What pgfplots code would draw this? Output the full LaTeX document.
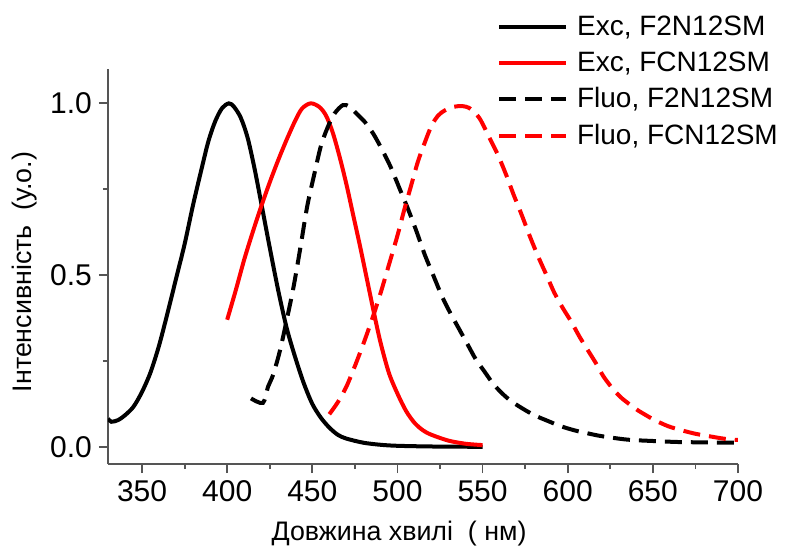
\documentclass[border=0pt]{standalone}
\usepackage{fontspec}
\setmainfont{Liberation Sans}
\usepackage{pgfplots}
\pgfplotsset{compat=1.18}

\definecolor{axgray}{RGB}{85,85,85}

\begin{document}
\begin{tikzpicture}
\begin{axis}[
    scale only axis,
    width=315pt, height=197.5pt,
    xmin=330, xmax=700,
    ymin=-0.05, ymax=1.1,
    axis x line*=bottom, axis y line*=left,
    axis line style={axgray, line width=0.9pt, -},
    tick style={axgray, line width=0.9pt},
    tick align=outside,
    major tick length=4.5pt, minor tick length=2.5pt,
    xtick={350,400,...,700},
    minor xtick={375,425,...,675},
    ytick={0,0.5,1},
    minor ytick={0.25,0.75},
    /pgf/number format/assume math mode=true,
    yticklabel style={/pgf/number format/fixed, /pgf/number format/zerofill, /pgf/number format/precision=1},
    xticklabel style={/pgf/number format/1000 sep={}},
    tick label style={font=\fontsize{15}{18}\selectfont, black},
    xlabel={Довжина хвилі\ \ ( нм)},
    ylabel={Інтенсивність\ \ (у.о.)},
    label style={font=\fontsize{13.4}{16}\selectfont},
    xlabel style={at={(rel axis cs:0.462,-0.175)}, anchor=center},
    ylabel style={at={(rel axis cs:-0.132,0.486)}, anchor=center},
    legend style={at={(rel axis cs:0.617,1.145)}, anchor=north west, draw=none, fill=none,
        font=\fontsize{14}{17}\selectfont, row sep=2.6pt, inner sep=0pt,
        /tikz/every odd column/.style={column sep=2.5pt}},
    legend cell align=left,
    legend image code/.code={\draw[#1] (0pt,0pt) -- (33.5pt,0pt);},
    every axis plot/.append style={line width=2pt, smooth, tension=0.5},
]
% Exc, F2N12SM
\addplot[black] coordinates {
(330,0.082) (332,0.073) (336,0.078) (340,0.092) (345,0.117) (350,0.16) (355,0.217)
(360,0.295) (365,0.39) (370,0.49) (375,0.59) (380,0.705) (385,0.81) (389,0.89)
(393,0.948) (397,0.986) (401,1.0) (404,0.99) (408,0.958) (412,0.9) (416,0.812)
(420,0.71) (425,0.58) (430,0.455) (435,0.345) (440,0.26) (445,0.185) (450,0.125)
(455,0.085) (460,0.056) (465,0.035) (470,0.024) (480,0.012) (490,0.006) (500,0.003)
(520,0.001) (550,0.0)
};
\addlegendentry{Exc, F2N12SM}

% Exc, FCN12SM
\addplot[red] coordinates {
(400,0.37) (405,0.455) (410,0.545) (415,0.625) (420,0.70) (425,0.77) (430,0.835)
(435,0.895) (440,0.95) (444,0.985) (449,1.0) (454,0.99) (458,0.965) (462,0.915)
(466,0.845) (470,0.765) (474,0.675) (478,0.585) (482,0.49) (486,0.395) (490,0.305)
(495,0.215) (500,0.155) (505,0.105) (510,0.07) (515,0.048) (520,0.035) (530,0.018)
(540,0.009) (550,0.005)
};
\addlegendentry{Exc, FCN12SM}

% Fluo, F2N12SM
\addplot[black, dash pattern=on 8.5pt off 4.5pt] coordinates {
(414,0.141) (421,0.128) (424,0.175) (427,0.21) (431,0.28) (435,0.37)
(439,0.466) (443,0.58) (447,0.70) (451,0.79) (455,0.875) (459,0.93) (463,0.97)
(468,0.995) (472,0.99) (476,0.97) (481,0.945) (486,0.91) (491,0.865) (496,0.815)
(501,0.755) (506,0.695) (511,0.63) (516,0.56) (521,0.50) (526,0.44) (531,0.39)
(536,0.345) (541,0.30) (546,0.255) (551,0.22) (556,0.185) (561,0.158) (566,0.136)
(572,0.116) (580,0.093) (588,0.076) (596,0.06) (604,0.048) (612,0.039) (620,0.031)
(635,0.021) (650,0.017) (665,0.014) (680,0.013) (700,0.012)
};
\addlegendentry{Fluo, F2N12SM}

% Fluo, FCN12SM
\addplot[red, dash pattern=on 8.5pt off 4.5pt] coordinates {
(460,0.095) (465,0.13) (470,0.175) (475,0.235) (480,0.30) (485,0.37) (490,0.446)
(495,0.53) (500,0.615) (504,0.69) (508,0.76) (512,0.83) (516,0.885) (520,0.935)
(524,0.965) (528,0.98) (533,0.99) (538,0.992) (542,0.987) (546,0.97) (549,0.95)
(554,0.90) (559,0.85) (564,0.79) (568,0.737) (573,0.675) (578,0.61) (583,0.55)
(588,0.495) (592,0.45) (597,0.405) (602,0.365) (607,0.32) (612,0.28) (617,0.24)
(621,0.205) (626,0.172) (631,0.145) (636,0.125) (641,0.107) (646,0.092) (651,0.078)
(659,0.06) (667,0.048) (675,0.038) (683,0.031) (690,0.025) (696,0.021) (700,0.02)
};
\addlegendentry{Fluo, FCN12SM}

\coordinate (bbl) at (rel axis cs:-0.1714,-0.210);
\coordinate (btr) at (rel axis cs:1.081,1.1747);
\end{axis}
\pgfresetboundingbox
\path (bbl) rectangle (btr);
\end{tikzpicture}
\end{document}
